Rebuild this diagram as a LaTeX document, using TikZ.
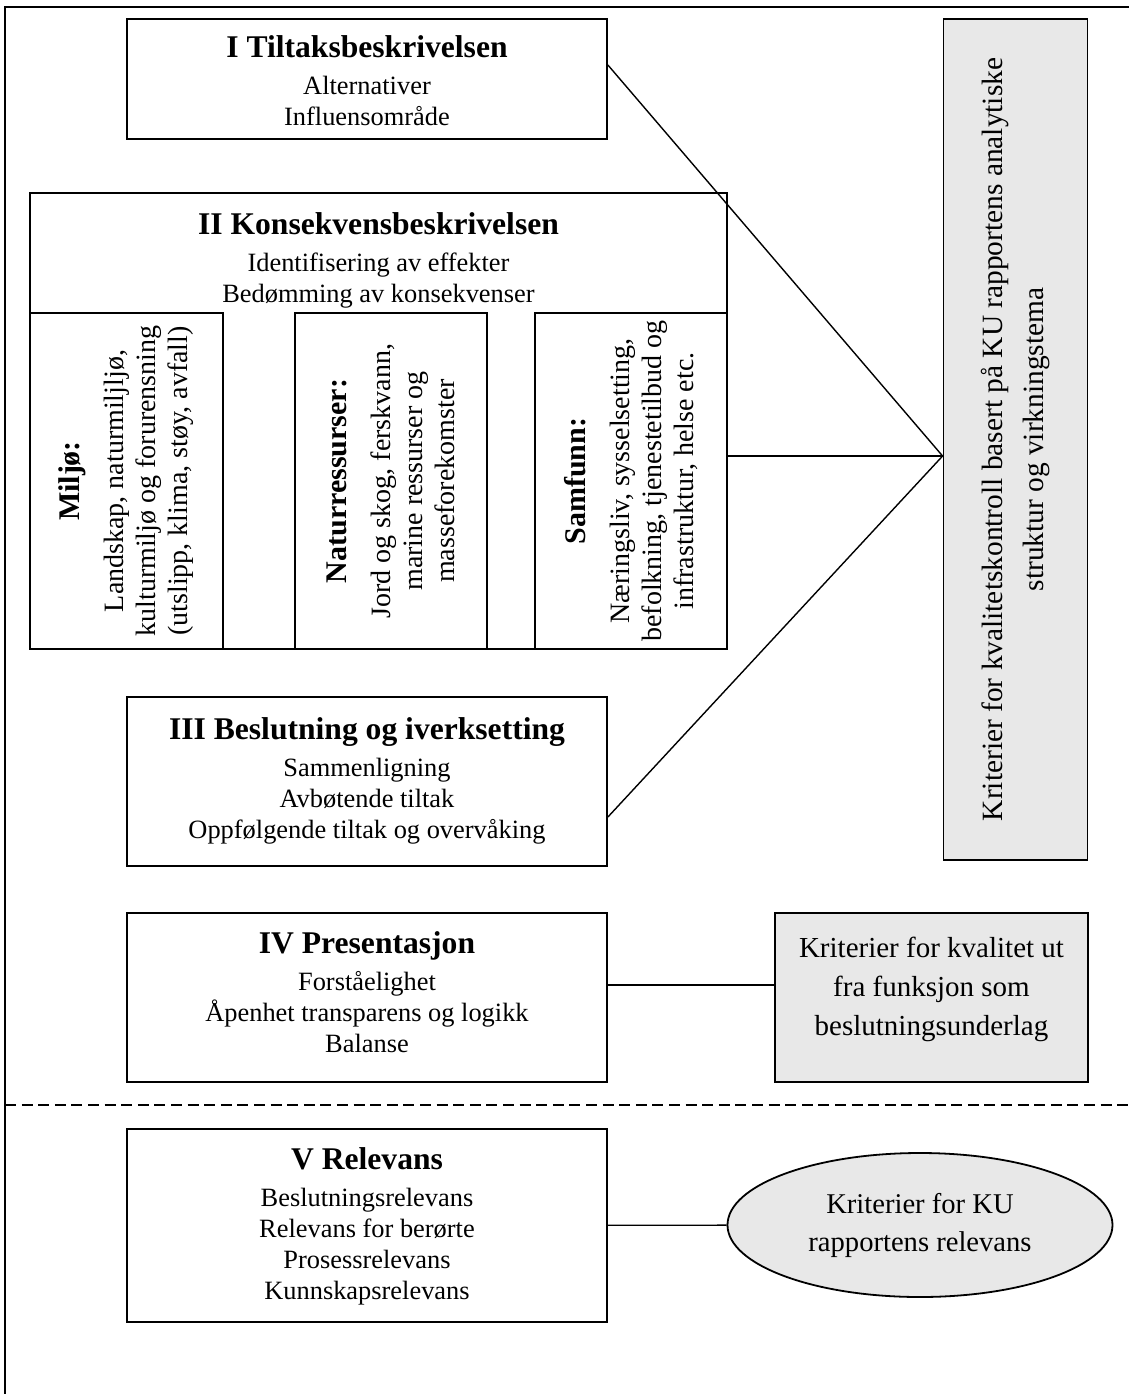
\documentclass[tikz,border=0pt]{standalone}
\usepackage{fontspec}
\setmainfont{Liberation Serif}
\usetikzlibrary{shapes.geometric}
\definecolor{critgray}{gray}{0.91}
\newcommand{\bodytxt}{\fontsize{13.2}{15.5}\selectfont}
\newcommand{\heading}[1]{{\fontsize{15.8}{19}\selectfont\bfseries #1}}
\newcommand{\subhead}[1]{{\fontsize{15}{17}\selectfont\bfseries #1}}
\tikzstyle{boxw}=[draw,line width=0.9pt,align=center,inner sep=0pt,font=\bodytxt]
\tikzstyle{boxg}=[boxw,fill=critgray]
\tikzstyle{boxtxt}=[anchor=north,align=center,inner sep=0pt,font=\bodytxt]
\tikzstyle{sidebox}=[boxw,rotate=90,font=\fontsize{14}{16}\selectfont]
\tikzstyle{link}=[line width=0.7pt]

\begin{document}
\begin{tikzpicture}[x=0.5pt,y=-0.5pt]
    \useasboundingbox (0,0) rectangle (1129,1394);
    \draw[line width=1pt] (5,1394) -- (5,7) -- (1129,7);
    \draw[line width=0.9pt,dash pattern=on 5.5pt off 2.8pt] (5,1105) -- (1129,1105);

    % I
    \node[boxw, minimum width=240pt, minimum height=60pt] (tiltak) at (367,79) {};
    \node[boxtxt] (tiltaktxt) at ([yshift=-8.5pt]tiltak.north)
        {\heading{I Tiltaksbeskrivelsen}\\[3pt] Alternativer\\ Influensområde};

    % II
    \node[boxw, minimum width=348.5pt, minimum height=228pt] (kons) at (378.5,421) {};
    \node[boxtxt] (konstxt) at ([yshift=-10pt]kons.north)
        {\heading{II Konsekvensbeskrivelsen}\\[3pt] Identifisering av effekter\\ Bedømming av konsekvenser};
    \node[sidebox, minimum width=168pt, minimum height=96.5pt] (miljo) at (126.5,481)
        {\subhead{Miljø:}\\[6pt] Landskap, naturmiljljø,\\ kulturmiljø og forurensning\\ (utslipp, klima, støy, avfall)};
    \node[sidebox, minimum width=168pt, minimum height=96pt] (naturres) at (391,481)
        {\subhead{Naturressurser:}\\[6pt] Jord og skog, ferskvann,\\ marine ressurser og\\ masseforekomster};
    \node[sidebox, minimum width=168pt, minimum height=96pt] (samfunn) at (631,481)
        {\subhead{Samfunn:}\\[6pt] Næringsliv, sysselsetting,\\ befolkning, tjenestetilbud og\\ infrastruktur, helse etc.};

    % III - V
    \node[boxw, minimum width=240pt, minimum height=84.5pt] (beslutning) at (367,781.5) {};
    \node[boxtxt] (beslutningtxt) at ([yshift=-10.5pt]beslutning.north)
        {\heading{III Beslutning og iverksetting}\\[3pt] Sammenligning\\ Avbøtende tiltak\\ Oppfølgende tiltak og overvåking};
    \node[boxw, minimum width=240pt, minimum height=84.5pt] (present) at (367,997.5) {};
    \node[boxtxt] (presenttxt) at ([yshift=-9.5pt]present.north)
        {\heading{IV Presentasjon}\\[3pt] Forståelighet\\ Åpenhet transparens og logikk\\ Balanse};
    \node[boxw, minimum width=240pt, minimum height=96.5pt] (relevans) at (367,1225.5) {};
    \node[boxtxt] (relevanstxt) at ([yshift=-9.5pt]relevans.north)
        {\heading{V Relevans}\\[3pt] Beslutningsrelevans\\ Relevans for berørte\\ Prosessrelevans\\ Kunnskapsrelevans};

    % kriterier
    \node[boxg, rotate=90, minimum width=420.5pt, minimum height=72pt, font=\fontsize{14.7}{20.5}\selectfont] (kvalitet) at (1015.5,439.5)
        {Kriterier for kvalitetskontroll basert på KU rapportens analytiske\\ struktur og virkningstema};
    \node[boxg, minimum width=156.5pt, minimum height=84.5pt] (funksjon) at (931.5,997.5) {};
    \node[align=center, inner sep=0pt, font=\fontsize{14.5}{19.5}\selectfont] (funksjontxt) at ([yshift=4pt]funksjon.center)
        {Kriterier for kvalitet ut\\ fra funksjon som\\ beslutningsunderlag};
    \node[boxg, ellipse, minimum width=192.5pt, minimum height=72pt, font=\fontsize{14.3}{19}\selectfont] (relkrit) at (920,1225)
        {Kriterier for KU\\ rapportens relevans};

    \coordinate (apex) at ([yshift=-8.25pt]kvalitet.north);
    \coordinate (tiltakpt) at ([yshift=7pt]tiltak.east);
    \coordinate (samfunnpt) at ([yshift=12.5pt]samfunn.south);
    \coordinate (beslutpt) at ([yshift=-17.75pt]beslutning.east);
    \coordinate (presentpt) at ([yshift=6.25pt]present.east);

    \foreach \from/\to in {tiltakpt/apex,samfunnpt/apex,beslutpt/apex,presentpt/presentpt -| funksjon.west,relevans/relkrit}
    \draw[link] (\from) -- (\to);
\end{tikzpicture}
\end{document}
